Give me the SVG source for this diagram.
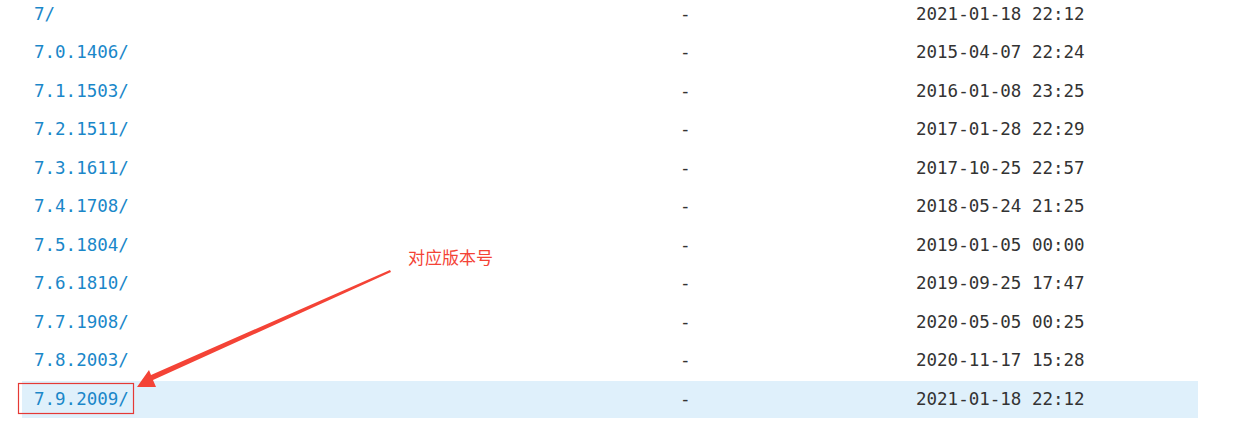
<svg xmlns="http://www.w3.org/2000/svg" width="1259" height="424" viewBox="0 0 1259 424">
<style>
.n{font-family:"DejaVu Sans Mono","Liberation Mono",monospace;font-size:17.5px;fill:#1a87c9}
.d{font-family:"DejaVu Sans Mono","Liberation Mono",monospace;font-size:17.5px;fill:#333}
</style>
<rect width="1259" height="424" fill="#fff"/>
<rect x="22" y="381" width="1176" height="37" fill="#dff0fb"/>
<g id="rows">
<g id="r0"><text class="n" x="34" y="20">7/</text><text class="d" x="680" y="20">-</text><text class="d" x="916" y="20">2021-01-18 22:12</text></g>
<g id="r1"><text class="n" x="34" y="58">7.0.1406/</text><text class="d" x="680" y="58">-</text><text class="d" x="916" y="58">2015-04-07 22:24</text></g>
<g id="r2"><text class="n" x="34" y="97">7.1.1503/</text><text class="d" x="680" y="97">-</text><text class="d" x="916" y="97">2016-01-08 23:25</text></g>
<g id="r3"><text class="n" x="34" y="135">7.2.1511/</text><text class="d" x="680" y="135">-</text><text class="d" x="916" y="135">2017-01-28 22:29</text></g>
<g id="r4"><text class="n" x="34" y="174">7.3.1611/</text><text class="d" x="680" y="174">-</text><text class="d" x="916" y="174">2017-10-25 22:57</text></g>
<g id="r5"><text class="n" x="34" y="212">7.4.1708/</text><text class="d" x="680" y="212">-</text><text class="d" x="916" y="212">2018-05-24 21:25</text></g>
<g id="r6"><text class="n" x="34" y="251">7.5.1804/</text><text class="d" x="680" y="251">-</text><text class="d" x="916" y="251">2019-01-05 00:00</text></g>
<g id="r7"><text class="n" x="34" y="289">7.6.1810/</text><text class="d" x="680" y="289">-</text><text class="d" x="916" y="289">2019-09-25 17:47</text></g>
<g id="r8"><text class="n" x="34" y="328">7.7.1908/</text><text class="d" x="680" y="328">-</text><text class="d" x="916" y="328">2020-05-05 00:25</text></g>
<g id="r9"><text class="n" x="34" y="366">7.8.2003/</text><text class="d" x="680" y="366">-</text><text class="d" x="916" y="366">2020-11-17 15:28</text></g>
<g id="r10"><text class="n" x="34" y="405">7.9.2009/</text><text class="d" x="680" y="405">-</text><text class="d" x="916" y="405">2021-01-18 22:12</text></g>
</g>
<g id="annotation">
<rect x="18.5" y="383.5" width="115" height="30" fill="none" stroke="#e53935" stroke-width="1.2"/>
<text x="408" y="264" font-family="Noto Sans CJK SC,sans-serif" font-size="17" fill="#f44336">对应版本号</text>
</g>
<g id="connectors">
<polygon points="390,270 391,272 153,380 156,387 137,387 149,370 151,375" fill="#f44336"/>
</g>
</svg>
